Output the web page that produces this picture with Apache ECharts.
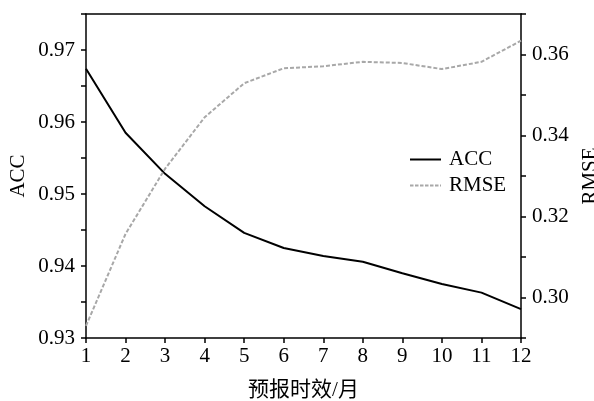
<!DOCTYPE html>
<html><head><meta charset="utf-8">
<script src="https://cdn.jsdelivr.net/npm/echarts@6/dist/echarts.min.js"></script>
<style>html,body{margin:0;padding:0;background:#fff}#c{width:594px;height:401px}</style>
</head><body><div id="c"></div>
<script>
var categories = ['1','2','3','4','5','6','7','8','9','10','11','12'];
var accValues = [0.9674, 0.9585, 0.9528, 0.9483, 0.9446, 0.9425, 0.9414, 0.9406, 0.9390, 0.9375, 0.9363, 0.9340];
var rmseValues = [0.2930, 0.3157, 0.3318, 0.3445, 0.3529, 0.3566, 0.3571, 0.3582, 0.3579, 0.3564, 0.3582, 0.3634];
var xAxisName = '预报时效/月';
var leftAxisName = 'ACC';
var rightAxisName = 'RMSE';

var FONT = '"Liberation Serif", "Noto Sans CJK SC", serif';
var FS = 21;
var solidIcon = 'path://M0,0H31V2H0Z';
var dashIcon = 'path://M0,0H3.5V2H0Z M5,0H8.5V2H5Z M10,0H13.5V2H10Z M15,0H18.5V2H15Z M20,0H23.5V2H20Z M25,0H28.5V2H25Z M30,0H31V2H30Z';
var chart = echarts.init(document.getElementById('c'));
var axisLineStyle = {color: '#000', width: 1.5};
chart.setOption({
  animation: false,
  textStyle: {fontFamily: FONT},
  grid: {left: 86, right: 73, top: 14, bottom: 63, outerBoundsMode: 'none', containLabel: false},
  legend: {
    orient: 'vertical', left: 405, top: 144, itemGap: 5,
    itemWidth: 31, itemHeight: 2, symbolKeepAspect: false,
    textStyle: {fontFamily: FONT, fontSize: FS, color: '#000', padding: [0, 0, 0, 3]},
    data: [{name: leftAxisName, icon: solidIcon}, {name: rightAxisName, icon: dashIcon}]
  },
  xAxis: [{
    type: 'category', data: categories, boundaryGap: false, position: 'bottom',
    name: xAxisName, nameLocation: 'middle', nameGap: 42,
    nameTextStyle: {fontFamily: FONT, fontSize: FS, color: '#000'},
    axisLine: {lineStyle: axisLineStyle},
    axisTick: {inside: false, length: 5, lineStyle: {color: '#000', width: 1.5}},
    axisLabel: {fontFamily: FONT, fontSize: FS, color: '#000', margin: 8},
    splitLine: {show: false}
  }, {
    type: 'category', data: categories, boundaryGap: false, position: 'top',
    axisLine: {lineStyle: axisLineStyle}, axisTick: {show: false}, axisLabel: {show: false}, splitLine: {show: false}
  }],
  yAxis: [{
    type: 'value', min: 0.93, max: 0.975, interval: 0.005, position: 'left',
    name: leftAxisName, nameLocation: 'middle', nameGap: 57, nameRotate: 90, nameMoveOverlap: false,
    nameTextStyle: {fontFamily: FONT, fontSize: FS, color: '#000'},
    axisLine: {show: true, lineStyle: axisLineStyle},
    axisTick: {show: true, inside: false, length: 5, lineStyle: {color: '#000', width: 1.5}},
    axisLabel: {fontFamily: FONT, fontSize: FS, color: '#000', margin: 11,
      formatter: function (v) { return Math.round(v * 1000) % 10 === 0 && v < 0.974 ? v.toFixed(2) : ''; }},
    splitLine: {show: false}
  }, {
    type: 'value', min: 0.29, max: 0.37, interval: 0.01, position: 'right',
    name: rightAxisName, nameLocation: 'middle', nameGap: 59, nameRotate: 90,
    nameTextStyle: {fontFamily: FONT, fontSize: FS, color: '#000'},
    axisLine: {show: true, lineStyle: axisLineStyle},
    axisTick: {show: true, inside: false, length: 5, lineStyle: {color: '#000', width: 1.5}},
    axisLabel: {fontFamily: FONT, fontSize: FS, color: '#000', margin: 11,
      formatter: function (v) { var k = Math.round(v * 100); return (k % 2 === 0 && k >= 30 && k <= 36) ? v.toFixed(2) : ''; }},
    splitLine: {show: false}
  }],
  series: [{
    name: leftAxisName, type: 'line', xAxisIndex: 0, yAxisIndex: 0, data: accValues,
    symbol: 'none', lineStyle: {color: '#000', width: 2}, itemStyle: {color: '#000'}
  }, {
    name: rightAxisName, type: 'line', xAxisIndex: 0, yAxisIndex: 1, data: rmseValues,
    symbol: 'none', lineStyle: {color: '#a8a8a8', width: 2, type: [4, 2]}, itemStyle: {color: '#a8a8a8'}
  }]
});
</script></body></html>
